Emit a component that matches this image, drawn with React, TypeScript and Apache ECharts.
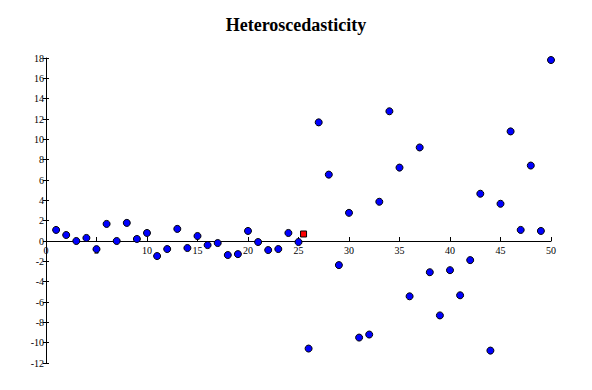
import React, { useEffect, useRef } from "react";
import * as echarts from "echarts";

const titleText = "Heteroscedasticity";
const xValues = [
  1, 2, 3, 4, 5, 6, 7, 8, 9, 10,
  11, 12, 13, 14, 15, 16, 17, 18, 19, 20,
  21, 22, 23, 24, 25, 26, 27, 28, 29, 30,
  31, 32, 33, 34, 35, 36, 37, 38, 39, 40,
  41, 42, 43, 44, 45, 46, 47, 48, 49, 50,
];
const yValues = [
  1.09, 0.59, 0.0, 0.3, -0.8, 1.68, 0.0, 1.78, 0.2, 0.79,
  -1.48, -0.79, 1.19, -0.69, 0.49, -0.4, -0.2, -1.38, -1.29, 0.99,
  -0.1, -0.89, -0.79, 0.79, -0.1, -10.58, 11.67, 6.53, -2.37, 2.77,
  -9.5, -9.2, 3.86, 12.76, 7.22, -5.44, 9.2, -3.07, -7.32, -2.87,
  -5.34, -1.88, 4.65, -10.78, 3.66, 10.78, 1.09, 7.42, 0.99, 17.8,
];
const meanPoint = [25.5, 0.69];
const xMin = 0, xMax = 50, xStep = 5;
const yMin = -12, yMax = 18, yStep = 2;

const serif = "'Liberation Serif', 'Times New Roman', serif";
const W = 592, H = 390;
const gridTop = 58, gridBottom = 27;

export default function App() {
  const ref = useRef<HTMLDivElement>(null);
  useEffect(() => {
    if (!ref.current) return;
    const chart = echarts.init(ref.current, null, { renderer: "svg" });
    const points = xValues.map((x, i) => [x, yValues[i]]);
    const gridHeight = H - gridTop - gridBottom;
    const zeroOffset = -((0 - yMin) / (yMax - yMin)) * gridHeight;
    chart.setOption({
      animation: false,
      backgroundColor: "#ffffff",
      title: {
        text: titleText,
        left: "center",
        top: 11,
        textStyle: { fontFamily: serif, fontWeight: "bold", fontSize: 18, color: "#000" },
      },
      grid: { left: 46, right: 41, top: gridTop, bottom: gridBottom },
      xAxis: [
        {
          type: "value",
          min: xMin,
          max: xMax,
          interval: xStep,
          axisLine: { show: true, onZero: true, lineStyle: { color: "#000", width: 1 } },
          axisTick: { show: true, inside: true, length: 4, lineStyle: { color: "#000" } },
          axisLabel: { show: false },
          splitLine: { show: false },
        },
        {
          type: "value",
          position: "bottom",
          offset: zeroOffset,
          min: xMin,
          max: xMax,
          interval: xStep,
          axisLine: { show: false, onZero: false },
          axisTick: { show: false },
          axisLabel: { fontFamily: serif, fontSize: 10, color: "#000", margin: 4 },
          splitLine: { show: false },
        },
      ],
      yAxis: [
        {
          type: "value",
          min: yMin,
          max: yMax,
          interval: yStep,
          axisLine: { show: true, onZero: false, lineStyle: { color: "#000", width: 1 } },
          axisTick: { show: true, inside: false, length: 3, lineStyle: { color: "#000" } },
          axisLabel: { fontFamily: serif, fontSize: 10, color: "#000", margin: 2 },
          splitLine: { show: false },
        },
        {
          type: "value",
          position: "left",
          min: yMin,
          max: yMax,
          interval: yStep,
          axisLine: { show: false, onZero: false },
          axisTick: { show: true, inside: true, length: 3, lineStyle: { color: "#000" } },
          axisLabel: { show: false },
          splitLine: { show: false },
        },
      ],
      series: [
        {
          type: "scatter",
          data: points,
          symbol: "circle",
          symbolSize: 7,
          itemStyle: { color: "#0000ff", borderColor: "#000", borderWidth: 1, opacity: 1 },
          z: 3,
        },
        {
          type: "scatter",
          data: [meanPoint],
          symbol: "rect",
          symbolSize: 6,
          itemStyle: { color: "#ff0000", borderColor: "#000", borderWidth: 1, opacity: 1 },
          z: 4,
        },
      ],
    });
    return () => chart.dispose();
  }, []);
  return (
    <div
      ref={ref}
      style={{ position: "fixed", left: 0, top: 0, width: W, height: H }}
    />
  );
}
